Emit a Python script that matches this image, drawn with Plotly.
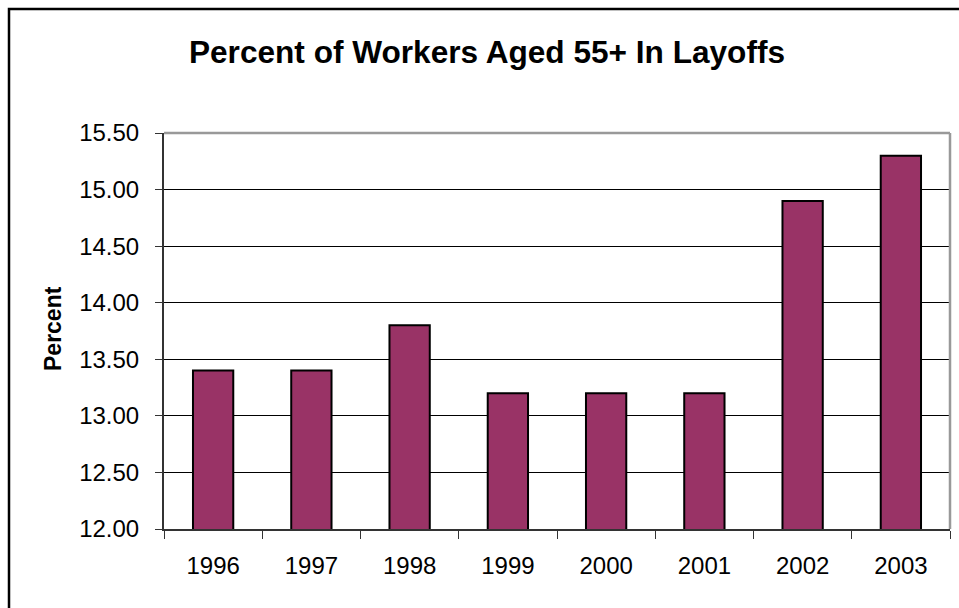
import plotly.graph_objects as go

# Share of laid-off workers who were aged 55 or older, by year
years = ["1996", "1997", "1998", "1999", "2000", "2001", "2002", "2003"]
percent = [13.4, 13.4, 13.8, 13.2, 13.2, 13.2, 14.9, 15.3]
y_ticks = [12.0, 12.5, 13.0, 13.5, 14.0, 14.5, 15.0, 15.5]

FONT = "Arial, Liberation Sans, sans-serif"
W, H = 959, 608
M_L, M_R, M_T, M_B = 164, 9, 133, 79
PLOT_W = W - M_L - M_R
PLOT_H = H - M_T - M_B


def px_to_paper_x(px):
    return (px - M_L) / PLOT_W


def px_to_paper_y(py):
    return (H - M_B - py) / PLOT_H


fig = go.Figure(
    go.Bar(
        x=years,
        y=percent,
        marker=dict(color="#993366", line=dict(color="black", width=2)),
    )
)

fig.update_layout(
    width=W,
    height=H,
    margin=dict(l=M_L, r=M_R, t=M_T, b=M_B),
    paper_bgcolor="white",
    plot_bgcolor="white",
    bargap=0.59,
    showlegend=False,
    font=dict(family=FONT, color="black", size=24),
    title=dict(
        text="<b>Percent of Workers Aged 55+ In Layoffs</b>",
        font=dict(family=FONT, size=31.6, color="black"),
        xref="container",
        yref="container",
        x=487 / W,
        y=1 - 52 / H,
        xanchor="center",
        yanchor="middle",
    ),
    xaxis=dict(
        type="category",
        tickson="boundaries",
        ticks="outside",
        ticklen=8,
        tickwidth=1,
        tickcolor="#333333",
        showline=True,
        linecolor="#333333",
        linewidth=1.5,
        showgrid=False,
        tickfont=dict(family=FONT, size=24, color="black"),
        ticklabelstandoff=14,
    ),
    yaxis=dict(
        range=[12, 15.5],
        tickvals=y_ticks,
        ticktext=[f"{v:.2f}" for v in y_ticks],
        ticks="outside",
        ticklen=7,
        tickwidth=1,
        tickcolor="#333333",
        showline=True,
        linecolor="#333333",
        linewidth=2,
        showgrid=True,
        gridcolor="black",
        gridwidth=1,
        zeroline=False,
        tickfont=dict(family=FONT, size=24, color="black"),
        ticklabelstandoff=11,
    ),
    annotations=[
        dict(
            text="<b>Percent</b>",
            xref="paper",
            yref="paper",
            x=px_to_paper_x(53),
            y=px_to_paper_y(328),
            textangle=-90,
            showarrow=False,
            xanchor="center",
            yanchor="middle",
            font=dict(family=FONT, size=23, color="black"),
        )
    ],
    shapes=[
        # grey frame on the top and right of the plot area
        dict(
            type="line", xref="paper", yref="paper",
            x0=0, x1=1, y0=1, y1=1,
            line=dict(color="#999999", width=2.5),
        ),
        dict(
            type="line", xref="paper", yref="paper",
            x0=1, x1=1, y0=0, y1=1,
            line=dict(color="#999999", width=2.5),
        ),
        # outer chart border
        dict(
            type="rect", xref="paper", yref="paper",
            x0=px_to_paper_x(9), x1=px_to_paper_x(W + 20),
            y0=px_to_paper_y(H + 20), y1=px_to_paper_y(9),
            line=dict(color="black", width=2.5),
        ),
    ],
)

fig.write_html("out.html")
